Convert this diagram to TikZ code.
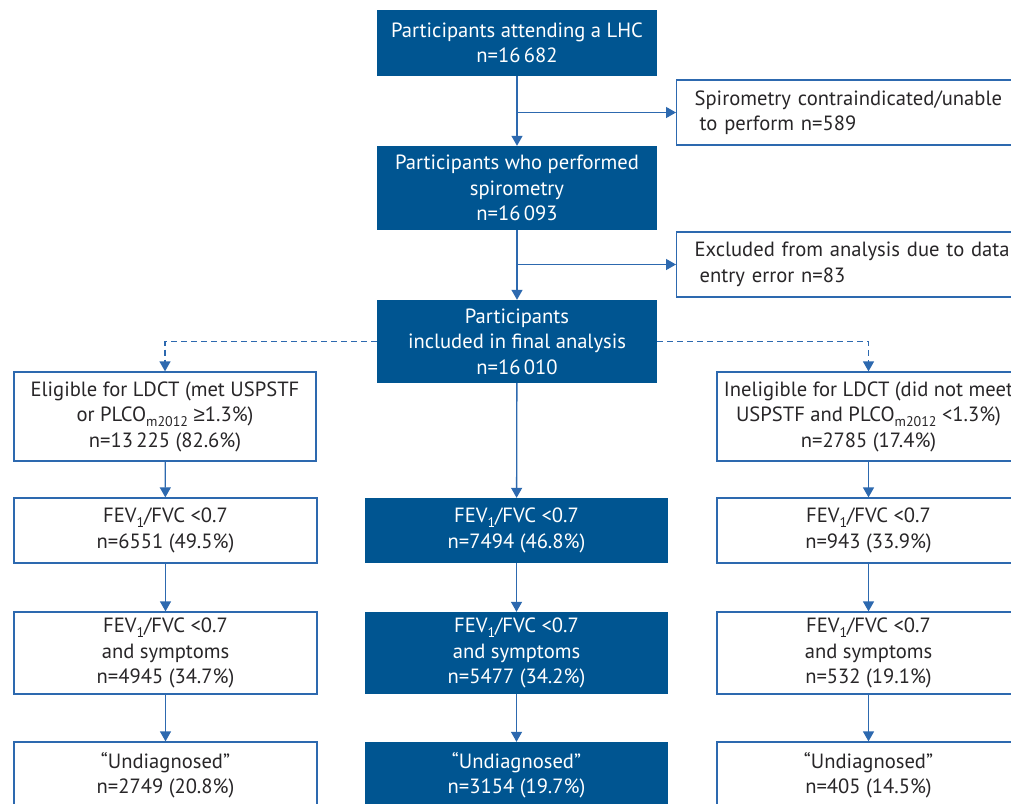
\documentclass[tikz,border=0pt]{standalone}
\usepackage{fontspec}
\setmainfont{PT Sans}
\newfontfamily\symfont{Liberation Sans}
\usetikzlibrary{arrows.meta}
\definecolor{dkblue}{RGB}{0,85,145}
\definecolor{lnblue}{RGB}{45,105,175}
\definecolor{txtgray}{RGB}{40,38,40}
\newcommand\lowsub[1]{\raisebox{-0.5ex}{\fontsize{14}{14}\selectfont #1}}
\begin{document}
\begin{tikzpicture}[x=1pt,y=-1pt,
  base/.style={minimum width=303pt, minimum height=65pt, inner sep=0pt, align=center,
    font=\fontsize{20.6}{25.5}\selectfont},
  bluebox/.style={base, fill=dkblue, text=white},
  whitebox/.style={base, draw=lnblue, line width=1.3pt, fill=white, text=txtgray},
  exbox/.style={whitebox, anchor=west, align=left, text width=330pt, inner xsep=18pt, minimum height=65pt},
  arr/.style={draw=lnblue, line width=1.3pt, -{Triangle[width=11pt,length=10pt]}},
  darr/.style={arr, dash pattern=on 6pt off 4pt},
]
\useasboundingbox (0,0) rectangle (1011,803);
\clip (0,0) rectangle (1011,803);
\fill[white] (0,0) rectangle (1011,803);

\node[bluebox, minimum width=280pt, minimum height=66pt] (top) at (517,43) {Participants attending a LHC\\n=16\,682};
\node[exbox] (ex1) at (676,112.5) {Spirometry contraindicated/unable\\\hspace*{5pt}to perform n=589};
\node[bluebox, minimum width=280pt, minimum height=84pt] (box2) at (517,188) {Participants who performed\\spirometry\\n=16\,093};
\node[exbox] (ex2) at (676,264.5) {Excluded from analysis due to data\\\hspace*{5pt}entry error n=83};
\node[bluebox, minimum width=280pt, minimum height=83pt] (box3) at (517,341.5) {Participants\\included in final analysis\\n=16\,010};

\node[whitebox, minimum width=302pt, minimum height=89pt] (elig) at (165,416.5) {Eligible for LDCT (met USPSTF\\or PLCO\lowsub{m2012} {\symfont ≥}1.3\%)\\n=13\,225 (82.6\%)};
\node[whitebox, minimum height=89pt] (inel) at (868.5,416.5) {Ineligible for LDCT (did not meet\\USPSTF and PLCO\lowsub{m2012} <1.3\%)\\n=2785 (17.4\%)};

\node[whitebox] (l1) at (165.5,530.5) {FEV\lowsub{1}/FVC <0.7\\n=6551 (49.5\%)};
\node[bluebox]  (m1) at (516.5,530.5) {FEV\lowsub{1}/FVC <0.7\\n=7494 (46.8\%)};
\node[whitebox] (r1) at (868.5,530.5) {FEV\lowsub{1}/FVC <0.7\\n=943 (33.9\%)};

\node[whitebox, minimum height=82pt] (l2) at (165.5,653) {FEV\lowsub{1}/FVC <0.7\\and symptoms\\n=4945 (34.7\%)};
\node[bluebox, minimum height=82pt]  (m2) at (516.5,653) {FEV\lowsub{1}/FVC <0.7\\and symptoms\\n=5477 (34.2\%)};
\node[whitebox, minimum height=82pt] (r2) at (868.5,653) {FEV\lowsub{1}/FVC <0.7\\and symptoms\\n=532 (19.1\%)};

\node[whitebox, minimum height=66pt] (l3) at (165.5,775) {“Undiagnosed”\\n=2749 (20.8\%)};
\node[bluebox, minimum height=66pt]  (m3) at (516.5,775) {“Undiagnosed”\\n=3154 (19.7\%)};
\node[whitebox, minimum height=66pt] (r3) at (868.5,775) {“Undiagnosed”\\n=405 (14.5\%)};

\draw[arr] (top) -- (box2);
\draw[arr] (top.south |- ex1.west) -- (ex1.west);
\draw[arr] (box2) -- (box3);
\draw[arr] (box2.south |- ex2.west) -- (ex2.west);
\draw[darr] (box3.west) -| (elig.north);
\draw[darr] (box3.east) -| (inel.north);
\draw[arr] (box3) -- (m1);
\draw[arr] (elig) -- (l1);
\draw[arr] (inel) -- (r1);
\draw[arr] (l1) -- (l2);
\draw[arr] (m1) -- (m2);
\draw[arr] (r1) -- (r2);
\draw[arr] (l2) -- (l3);
\draw[arr] (m2) -- (m3);
\draw[arr] (r2) -- (r3);
\end{tikzpicture}
\end{document}
